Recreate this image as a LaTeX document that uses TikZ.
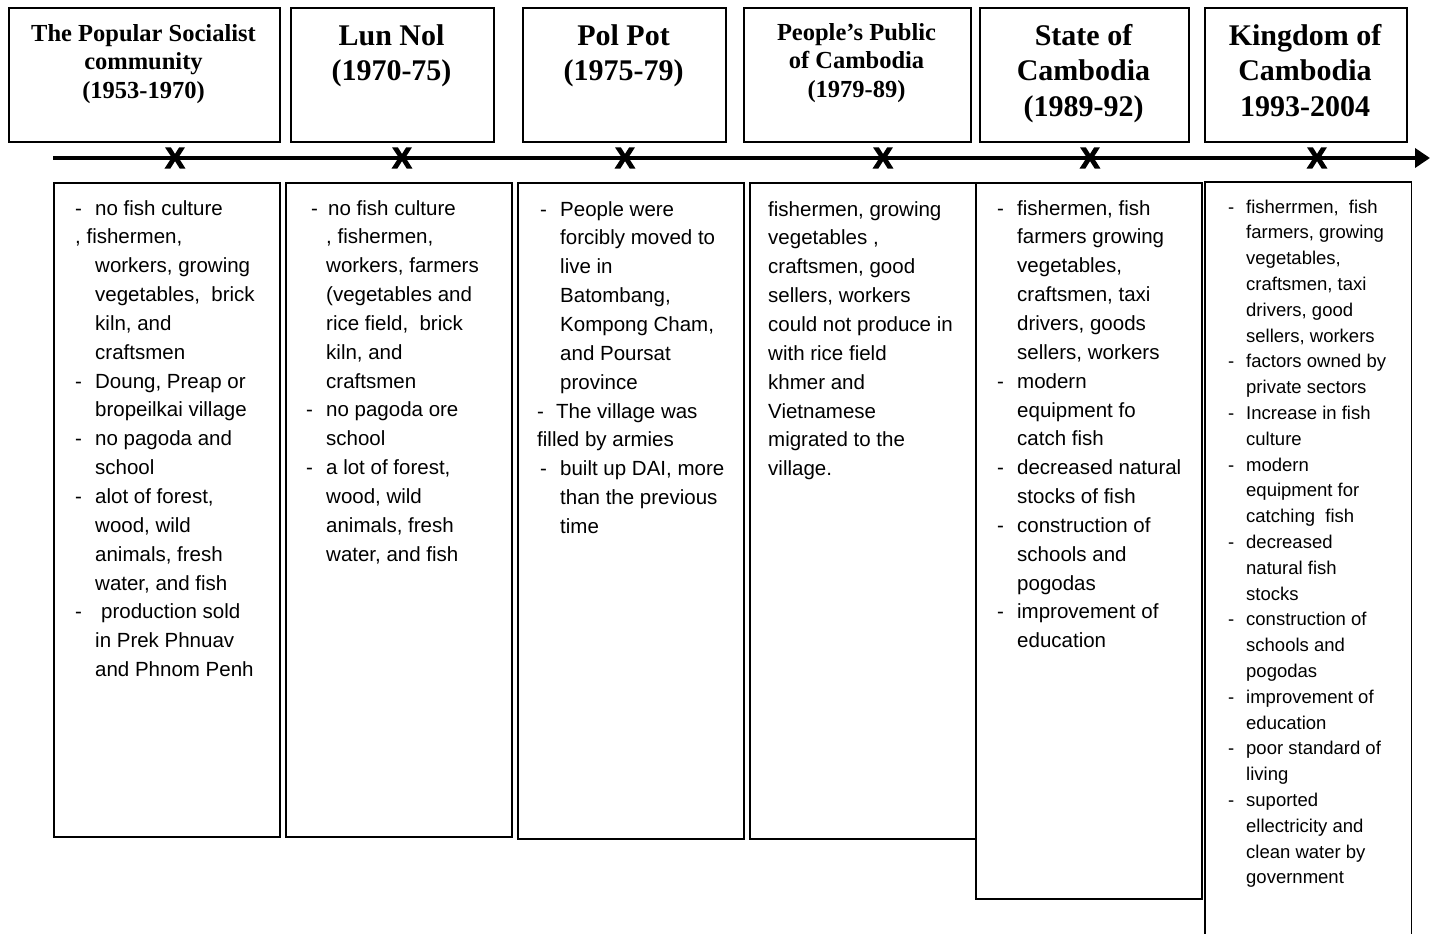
\documentclass[tikz,border=0pt]{standalone}
\usepackage{fontspec}
\setmainfont{Liberation Serif}
\setsansfont{Liberation Sans}
\newfontfamily\xmfont{Liberation Sans}[BoldFeatures={FakeBold=4}]
\usetikzlibrary{arrows.meta}
\newcommand{\dsh}[1]{\makebox[#1][l]{-}}
\newcommand{\ind}[1]{\hspace*{#1}}
\begin{document}
\begin{tikzpicture}[x=1pt,y=-1pt,
 hbox/.style={draw, line width=1.7pt, inner sep=0pt, anchor=north west},
 htitle/.style={anchor=base, align=center, inner sep=0pt, font=\bfseries\fontsize{30}{35.5}\selectfont},
 htitlesm/.style={anchor=base, align=center, inner sep=0pt, font=\bfseries\fontsize{24.5}{28.8}\selectfont},
 body/.style={anchor=base west, align=left, inner sep=0pt, font=\sffamily\fontsize{20.5}{28.85}\selectfont},
 bodysm/.style={anchor=base west, align=left, inner sep=0pt, font=\sffamily\fontsize{18.5}{25.8}\selectfont},
 xmark/.style={inner sep=0pt, font=\xmfont\bfseries\fontsize{29}{29}\selectfont},
 timeline/.style={line width=4.5pt, -{Triangle[length=15pt,width=19pt]}}
]
\useasboundingbox (0,0) rectangle (1438,934);

% header boxes
\node[hbox, minimum width=271pt, minimum height=134pt] (h1) at (8,7) {};
\node[hbox, minimum width=203pt, minimum height=134pt] (h2) at (290,7) {};
\node[hbox, minimum width=203pt, minimum height=134pt] (h3) at (522,7) {};
\node[hbox, minimum width=227pt, minimum height=134pt] (h4) at (743,7) {};
\node[hbox, minimum width=209pt, minimum height=134pt] (h5) at (979,7) {};
\node[hbox, minimum width=202pt, minimum height=134pt] (h6) at (1204,7) {};

% titles (anchor = baseline of last line)
\node[htitlesm] (t1) at (143.5,98.6) {The Popular Socialist\\community\\(1953-1970)};
\node[htitle] (t2) at (391.5,80.5) {Lun Nol\\(1970-75)};
\node[htitle] (t3) at (623.5,80.5) {Pol Pot\\(1975-79)};
\node[htitlesm] (t4) at (856.5,97.6) {People’s Public\\of Cambodia\\(1979-89)};
\node[htitle] (t5) at (1083.5,116) {State of\\Cambodia\\(1989-92)};
\node[htitle] (t6) at (1305,116) {Kingdom of\\Cambodia\\1993-2004};

% timeline
\coordinate (tl0) at (53,158);
\coordinate (tl1) at (1430,158);
\draw[timeline] (tl0) -- (tl1);
\node[xmark] (m1) at (175,158) {X};
\node[xmark] (m2) at (402,158) {X};
\node[xmark] (m3) at (625,158) {X};
\node[xmark] (m4) at (883,158) {X};
\node[xmark] (m5) at (1090,158) {X};
\node[xmark] (m6) at (1317,158) {X};

% body boxes
\node[hbox, minimum width=226pt, minimum height=654pt] (b1) at (53,182) {};
\node[hbox, minimum width=226pt, minimum height=654pt] (b2) at (285,182) {};
\node[hbox, minimum width=226pt, minimum height=656pt] (b3) at (517,182) {};
\node[hbox, minimum width=226pt, minimum height=656pt] (b4) at (749,182) {};
\node[hbox, minimum width=226pt, minimum height=716pt] (b5) at (975,182) {};
\node[inner sep=0pt, minimum width=206pt, minimum height=760pt, anchor=north west] (b6) at (1205,182) {};
\draw[line width=1.7pt] (b6.south west) -- (b6.north west) -- (b6.north east) -- (b6.south east);

% body texts (anchor = baseline of last line)
\node[body] (x1) at (75,676.6) {\dsh{20pt}no fish culture\\
, fishermen,\\
\ind{20pt}workers, growing\\
\ind{20pt}vegetables,\ \ brick\\
\ind{20pt}kiln, and\\
\ind{20pt}craftsmen\\
\dsh{20pt}Doung, Preap or\\
\ind{20pt}bropeilkai village\\
\dsh{20pt}no pagoda and\\
\ind{20pt}school\\
\dsh{20pt}alot of forest,\\
\ind{20pt}wood, wild\\
\ind{20pt}animals, fresh\\
\ind{20pt}water, and fish\\
\dsh{26pt}production sold\\
\ind{20pt}in Prek Phnuav\\
\ind{20pt}and Phnom Penh};

\node[body] (x2) at (306,561.2) {\ind{5pt}\dsh{17pt}no fish culture\\
\ind{20pt}, fishermen,\\
\ind{20pt}workers, farmers\\
\ind{20pt}(vegetables and\\
\ind{20pt}rice field,\ \ brick\\
\ind{20pt}kiln, and\\
\ind{20pt}craftsmen\\
\dsh{20pt}no pagoda ore\\
\ind{20pt}school\\
\dsh{20pt}a lot of forest,\\
\ind{20pt}wood, wild\\
\ind{20pt}animals, fresh\\
\ind{20pt}water, and fish};

\node[body] (x3) at (537,533.4) {\ind{3pt}\dsh{20pt}People were\\
\ind{23pt}forcibly moved to\\
\ind{23pt}live in\\
\ind{23pt}Batombang,\\
\ind{23pt}Kompong Cham,\\
\ind{23pt}and Poursat\\
\ind{23pt}province\\
\dsh{19pt}The village was\\
filled by armies\\
\ind{3pt}\dsh{20pt}built up DAI, more\\
\ind{23pt}than the previous\\
\ind{23pt}time};

\node[body] (x4) at (768,475.7) {fishermen, growing\\
vegetables ,\\
craftsmen, good\\
sellers, workers\\
could not produce in\\
with rice field\\
khmer and\\
Vietnamese\\
migrated to the\\
village.};

\node[body] (x5) at (997,647.8) {\dsh{20pt}fishermen, fish\\
\ind{20pt}farmers growing\\
\ind{20pt}vegetables,\\
\ind{20pt}craftsmen, taxi\\
\ind{20pt}drivers, goods\\
\ind{20pt}sellers, workers\\
\dsh{20pt}modern\\
\ind{20pt}equipment fo\\
\ind{20pt}catch fish\\
\dsh{20pt}decreased natural\\
\ind{20pt}stocks of fish\\
\dsh{20pt}construction of\\
\ind{20pt}schools and\\
\ind{20pt}pogodas\\
\dsh{20pt}improvement of\\
\ind{20pt}education};

\node[bodysm] (x6) at (1228,883.8) {\dsh{18pt}fisherrmen,\ \ fish\\
\ind{18pt}farmers, growing\\
\ind{18pt}vegetables,\\
\ind{18pt}craftsmen, taxi\\
\ind{18pt}drivers, good\\
\ind{18pt}sellers, workers\\
\dsh{18pt}factors owned by\\
\ind{18pt}private sectors\\
\dsh{18pt}Increase in fish\\
\ind{18pt}culture\\
\dsh{18pt}modern\\
\ind{18pt}equipment for\\
\ind{18pt}catching\ \ fish\\
\dsh{18pt}decreased\\
\ind{18pt}natural fish\\
\ind{18pt}stocks\\
\dsh{18pt}construction of\\
\ind{18pt}schools and\\
\ind{18pt}pogodas\\
\dsh{18pt}improvement of\\
\ind{18pt}education\\
\dsh{18pt}poor standard of\\
\ind{18pt}living\\
\dsh{18pt}suported\\
\ind{18pt}ellectricity and\\
\ind{18pt}clean water by\\
\ind{18pt}government};
\end{tikzpicture}
\end{document}
